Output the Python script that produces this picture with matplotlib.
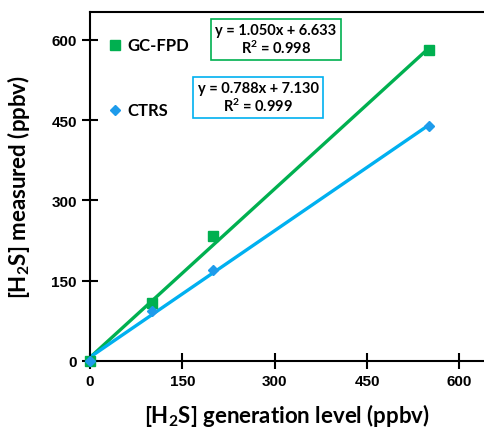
import matplotlib.pyplot as plt
import numpy as np

plt.rcParams['mathtext.fontset'] = 'custom'
plt.rcParams['mathtext.rm'] = 'Lato:bold'
plt.rcParams['mathtext.it'] = 'Lato:bold'
plt.rcParams['mathtext.bf'] = 'Lato:bold'

x_gen = [0, 100, 200, 550]
gc_fpd = [0, 108, 233, 581]
ctrs = [0, 93, 170, 439]

gc_fit = (1.050, 6.633, 0.998)
ctrs_fit = (0.788, 7.130, 0.999)

green = '#00B050'
blue = '#00B0F0'
blue_mk = '#1E9BEB'

fig = plt.figure(figsize=(4.84, 4.31), dpi=100)
ax = fig.add_axes([90/484, (431-362)/431, (484-90)/484, (362-13)/431])

xl = np.array([0, 550])
ax.plot(xl, gc_fit[0]*xl + gc_fit[1], color=green, lw=2.4, zorder=2)
ax.plot(xl, ctrs_fit[0]*xl + ctrs_fit[1], color=blue, lw=2.4, zorder=2)
ax.plot(x_gen, gc_fpd, 's', color=green, ms=6.5, zorder=3, clip_on=False)
ax.plot(x_gen, ctrs, 'D', color=blue_mk, ms=5, zorder=3, clip_on=False)

ax.set_xlim(0, 640)
ax.set_ylim(0, 652)
ax.set_xticks([0, 150, 300, 450, 600])
ax.set_yticks([0, 150, 300, 450, 600])
ax.spines['right'].set_visible(False)
for s in ax.spines.values():
    s.set_linewidth(1.5)
ax.tick_params(direction='inout', length=11, width=1.5, labelsize=11, pad=4)
for lab in ax.get_xticklabels() + ax.get_yticklabels():
    lab.set_fontweight('bold')
    lab.set_family('Liberation Sans')

ax.set_xlabel('[H$_2$S] generation level (ppbv)', fontsize=16, fontweight='bold',
              family='Lato', labelpad=9)
ax.set_ylabel('[H$_2$S] measured (ppbv)', fontsize=16, fontweight='bold',
              family='Lato', labelpad=14)

# legend-like labels
ax.plot([40], [590], 's', color=green, ms=7)
ax.text(60, 590, 'GC-FPD', fontsize=12, fontweight='bold', family='Lato', va='center')
ax.plot([40], [469], 'D', color=blue_mk, ms=5.5)
ax.text(60, 469, 'CTRS', fontsize=12, fontweight='bold', family='Lato', va='center')

ax.text(302, 601, f'y = {gc_fit[0]:.3f}x + {gc_fit[1]:.3f}\nR$^2$ = {gc_fit[2]:.3f}',
        ha='center', va='center', fontsize=10.5, fontweight='bold', family='Lato',
        linespacing=1.1,
        bbox=dict(facecolor='white', edgecolor=green, lw=1.2, boxstyle='square,pad=0.3'))
ax.text(273, 492, f'y = {ctrs_fit[0]:.3f}x + {ctrs_fit[1]:.3f}\nR$^2$ = {ctrs_fit[2]:.3f}',
        ha='center', va='center', fontsize=10.5, fontweight='bold', family='Lato',
        linespacing=1.1,
        bbox=dict(facecolor='white', edgecolor=blue, lw=1.2, boxstyle='square,pad=0.3'))

fig.savefig('out.png', dpi=100)
